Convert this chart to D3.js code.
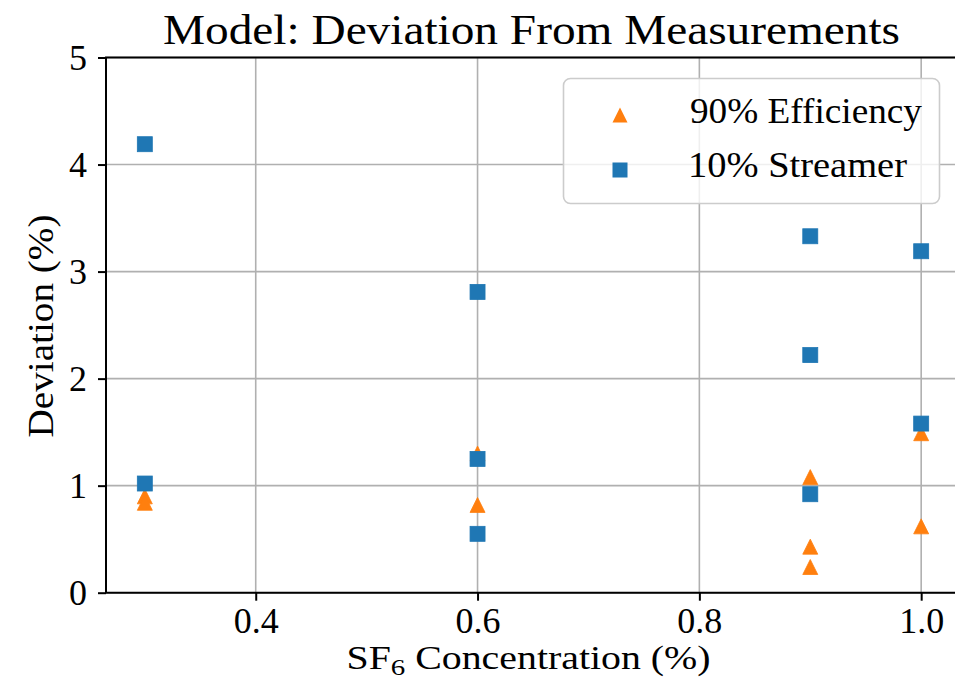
<!DOCTYPE html>
<html>
<head>
<meta charset="utf-8">
<script src="https://cdn.jsdelivr.net/npm/d3@7"></script>
<style>
  body { margin: 0; background: #fff; }
  text { font-family: "Liberation Serif", "DejaVu Serif", serif; fill: #000; }
</style>
</head>
<body>
<div id="chart"></div>
<script>
// data
const effX = [0.3, 0.3, 0.6, 0.6, 0.9, 0.9, 0.9, 1.0, 1.0];
const effY = [0.90, 0.84, 1.30, 0.82, 1.08, 0.43, 0.24, 1.49, 0.62];
const strX = [0.3, 0.3, 0.6, 0.6, 0.6, 0.9, 0.9, 0.9, 1.0, 1.0];
const strY = [4.19, 1.02, 2.81, 1.25, 0.55, 3.33, 2.22, 0.92, 3.19, 1.58];
const xTicks = [0.4, 0.6, 0.8, 1.0];
const yTicks = [0, 1, 2, 3, 4, 5];
const seriesNames = ["90% Efficiency", "10% Streamer"];
const colors = ["#ff7f0e", "#1f77b4"];

var width = 955, height = 691;
var margin = {top: 57.5, right: -5, bottom: 98.3, left: 106};

var svg = d3.select("#chart").append("svg")
  .attr("width", width).attr("height", height);

const xScale = d3.scaleLinear()
  .domain([0.265, 1.035])
  .range([margin.left, width - margin.right]);
const yScale = d3.scaleLinear()
  .domain([0, 5])
  .range([height - margin.bottom, margin.top]);

var x0 = margin.left, x1 = width - margin.right;
var y0 = height - margin.bottom, y1 = margin.top;

// grid
svg.append("g").selectAll("line").data(xTicks).enter().append("line")
  .attr("x1", d => xScale(d)).attr("x2", d => xScale(d))
  .attr("y1", y1).attr("y2", y0)
  .attr("stroke", "#b0b0b0").attr("stroke-width", 1.6);
svg.append("g").selectAll("line").data(yTicks).enter().append("line")
  .attr("x1", x0).attr("x2", x1)
  .attr("y1", d => yScale(d)).attr("y2", d => yScale(d))
  .attr("stroke", "#b0b0b0").attr("stroke-width", 1.6);

// axes
const xAxis = d3.axisBottom(xScale).tickValues(xTicks).tickFormat(d3.format(".1f"))
  .tickSize(8).tickPadding(9);
svg.append("g")
  .attr("transform", `translate(0,${y0})`)
  .call(xAxis)
  .call(g => g.select(".domain").remove())
  .call(g => g.selectAll(".tick line").attr("stroke", "#000").attr("stroke-width", 2))
  .call(g => g.selectAll(".tick text").attr("font-size", 36).attr("font-family", "Liberation Serif")
    .attr("dy", null).attr("y", 40));

const yAxis = d3.axisLeft(yScale).tickValues(yTicks).tickFormat(d3.format("d"))
  .tickSize(8).tickPadding(9);
svg.append("g")
  .attr("transform", `translate(${x0},0)`)
  .call(yAxis)
  .call(g => g.select(".domain").remove())
  .call(g => g.selectAll(".tick line").attr("stroke", "#000").attr("stroke-width", 2))
  .call(g => g.selectAll(".tick text").attr("font-size", 36).attr("font-family", "Liberation Serif")
    .attr("dy", null).attr("y", 12).attr("x", -19));

// spines
svg.append("line").attr("x1", x0).attr("x2", x0).attr("y1", y1).attr("y2", y0)
  .attr("stroke", "#000").attr("stroke-width", 2);
svg.append("line").attr("x1", x0 - 1).attr("x2", x1).attr("y1", y0).attr("y2", y0)
  .attr("stroke", "#000").attr("stroke-width", 2);
svg.append("line").attr("x1", x0 - 1).attr("x2", x1).attr("y1", y1).attr("y2", y1)
  .attr("stroke", "#000").attr("stroke-width", 2);

// markers
var s = 7.5;
function triPath(cx, cy) {
  return `M${cx},${cy - s}L${cx + s},${cy + s}L${cx - s},${cy + s}Z`;
}
var effData = effX.map((x, i) => ({x: x, y: effY[i]}));
var strData = strX.map((x, i) => ({x: x, y: strY[i]}));

svg.append("g").selectAll("path").data(effData).enter().append("path")
  .attr("d", d => triPath(xScale(d.x), yScale(d.y)))
  .attr("fill", colors[0]).attr("stroke", colors[0]).attr("stroke-width", 0.8);
svg.append("g").selectAll("rect").data(strData).enter().append("rect")
  .attr("x", d => xScale(d.x) - s).attr("y", d => yScale(d.y) - s)
  .attr("width", 2 * s).attr("height", 2 * s)
  .attr("fill", colors[1]).attr("stroke", colors[1]).attr("stroke-width", 0.8);

// title and labels
svg.append("text")
  .attr("x", 531.5).attr("y", 43.5)
  .attr("text-anchor", "middle")
  .attr("font-size", 43.2)
  .attr("textLength", 737).attr("lengthAdjust", "spacingAndGlyphs")
  .text("Model: Deviation From Measurements");

var xl = svg.append("text")
  .attr("x", 346.5).attr("y", 669)
  .attr("font-size", 33)
  .attr("textLength", 364).attr("lengthAdjust", "spacingAndGlyphs");
xl.append("tspan").text("SF");
xl.append("tspan").attr("font-size", 24).attr("dy", 6).text("6");
xl.append("tspan").attr("dy", -6).text(" Concentration (%)");

svg.append("text")
  .attr("transform", "translate(53,326) rotate(-90)")
  .attr("text-anchor", "middle")
  .attr("font-size", 36)
  .attr("textLength", 223).attr("lengthAdjust", "spacingAndGlyphs")
  .text("Deviation (%)");

// legend
var lg = svg.append("g");
lg.append("rect")
  .attr("x", 563.5).attr("y", 78.5).attr("width", 376).attr("height", 125)
  .attr("rx", 7).attr("ry", 7)
  .attr("fill", "#fff").attr("fill-opacity", 0.8)
  .attr("stroke", "#cccccc").attr("stroke-width", 1.6);
lg.append("path").attr("d", triPath(620, 115)).attr("fill", colors[0]);
lg.append("rect").attr("x", 620 - s).attr("y", 170 - s).attr("width", 2 * s).attr("height", 2 * s)
  .attr("fill", colors[1]);
lg.append("text").attr("x", 690).attr("y", 123).attr("font-size", 36)
  .attr("textLength", 232).attr("lengthAdjust", "spacingAndGlyphs").text(seriesNames[0]);
lg.append("text").attr("x", 688).attr("y", 177).attr("font-size", 36)
  .attr("textLength", 219).attr("lengthAdjust", "spacingAndGlyphs").text(seriesNames[1]);
</script>
</body>
</html>
